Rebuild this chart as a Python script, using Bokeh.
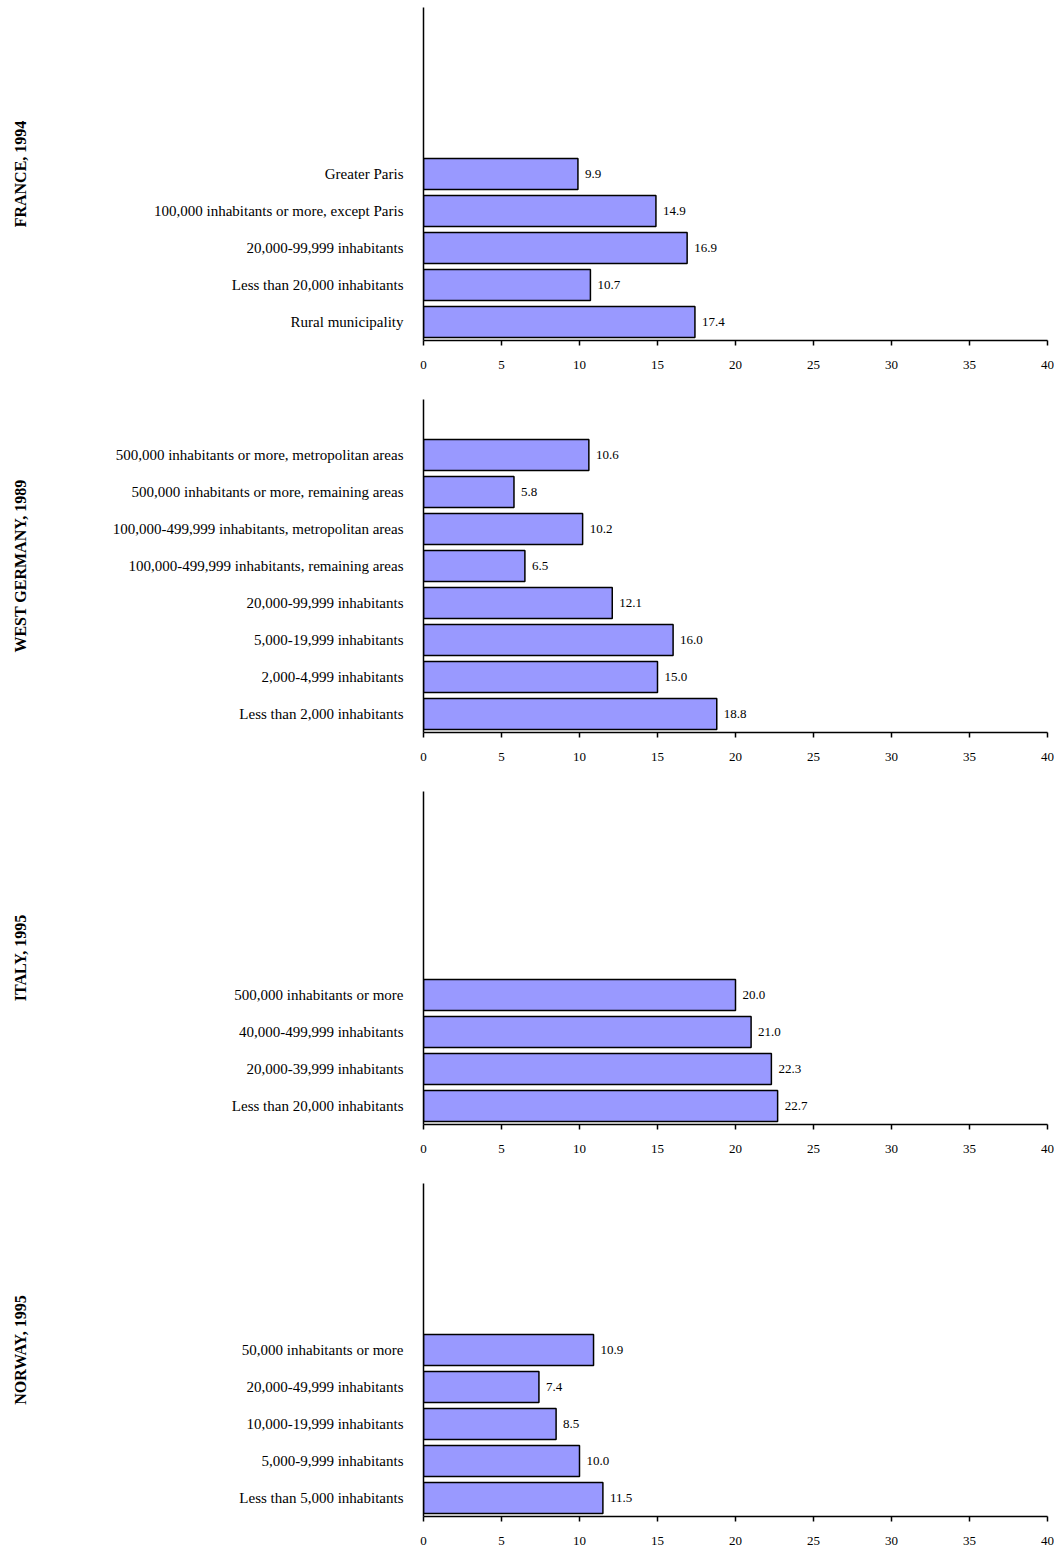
import math
from bokeh.plotting import figure
from bokeh.layouts import column, row
from bokeh.models import FixedTicker, ColumnDataSource, Range1d
from bokeh.core.properties import value
from bokeh.embed import file_html
from bokeh.resources import INLINE

france_cats = ["Greater Paris", "100,000 inhabitants or more, except Paris", "20,000-99,999 inhabitants",
               "Less than 20,000 inhabitants", "Rural municipality"]
france_vals = [9.9, 14.9, 16.9, 10.7, 17.4]
germany_cats = ["500,000 inhabitants or more, metropolitan areas", "500,000 inhabitants or more, remaining areas",
                "100,000-499,999 inhabitants, metropolitan areas", "100,000-499,999 inhabitants, remaining areas",
                "20,000-99,999 inhabitants", "5,000-19,999 inhabitants", "2,000-4,999 inhabitants",
                "Less than 2,000 inhabitants"]
germany_vals = [10.6, 5.8, 10.2, 6.5, 12.1, 16.0, 15.0, 18.8]
italy_cats = ["500,000 inhabitants or more", "40,000-499,999 inhabitants", "20,000-39,999 inhabitants",
              "Less than 20,000 inhabitants"]
italy_vals = [20.0, 21.0, 22.3, 22.7]
norway_cats = ["50,000 inhabitants or more", "20,000-49,999 inhabitants", "10,000-19,999 inhabitants",
               "5,000-9,999 inhabitants", "Less than 5,000 inhabitants"]
norway_vals = [10.9, 7.4, 8.5, 10.0, 11.5]
x_ticks = [0, 5, 10, 15, 20, 25, 30, 35, 40]

panels = [("FRANCE, 1994", france_cats, france_vals),
          ("WEST GERMANY, 1989", germany_cats, germany_vals),
          ("ITALY, 1995", italy_cats, italy_vals),
          ("NORWAY, 1995", norway_cats, norway_vals)]

FONT = "Liberation Serif"
TW = 40
rows = []
for k, (title, cats, vals) in enumerate(panels):
    n = len(cats)
    bottom = 52 if k < 3 else 40
    H = 7 + 333 + bottom
    ys = [n - 1 - i + 0.5 for i in range(n)]
    src = ColumnDataSource(dict(y=ys, v=vals, lx=[v + 0.45 for v in vals],
                                t=["%.1f" % v for v in vals]))
    p = figure(width=1054 - TW, height=H, output_backend="svg", toolbar_location=None,
               x_range=Range1d(0, 40), y_range=Range1d(0, 9),
               min_border_left=423 - TW, min_border_right=7, min_border_top=7, min_border_bottom=bottom)
    p.hbar(y="y", right="v", left=0, height=0.84, source=src,
           fill_color="#9999FF", line_color="black", line_width=1.5)
    p.text(x="lx", y="y", text="t", source=src, text_baseline="middle",
           text_font=value(FONT), text_font_size="13px", text_color="black")
    p.xgrid.visible = False
    p.ygrid.visible = False
    p.outline_line_color = None
    p.xaxis.ticker = FixedTicker(ticks=x_ticks)
    p.yaxis.ticker = FixedTicker(ticks=ys)
    p.yaxis.major_label_overrides = {y: c for y, c in zip(ys, cats)}
    p.yaxis.major_tick_line_color = None
    p.yaxis.minor_tick_line_color = None
    p.xaxis.minor_tick_line_color = None
    p.xaxis.major_tick_out = 5
    p.xaxis.major_tick_in = 0
    for ax in (p.xaxis, p.yaxis):
        ax.axis_line_color = "black"
        ax.axis_line_width = 1.5
        ax.major_label_text_font = FONT
        ax.major_label_text_color = "black"
    p.xaxis.major_tick_line_width = 1.5
    p.xaxis.major_label_text_font_size = "13px"
    p.yaxis.major_label_text_font_size = "15px"
    p.yaxis.major_label_standoff = 14
    p.xaxis.major_label_standoff = 15

    t = figure(width=TW, height=H, output_backend="svg", toolbar_location=None,
               x_range=Range1d(0, 1), y_range=Range1d(0, 9),
               min_border_left=0, min_border_right=0, min_border_top=7, min_border_bottom=bottom)
    t.axis.visible = False
    t.grid.visible = False
    t.outline_line_color = None
    t.text(x=[0.5], y=[4.5], text=[title], angle=math.pi / 2, text_align="center",
           text_baseline="middle", text_font=value(FONT), text_font_style="bold",
           text_font_size="16px", text_color="black")
    rows.append(row(t, p, spacing=0))

layout = column(*rows, spacing=0)
open("out.html", "w").write(file_html(layout, INLINE))
